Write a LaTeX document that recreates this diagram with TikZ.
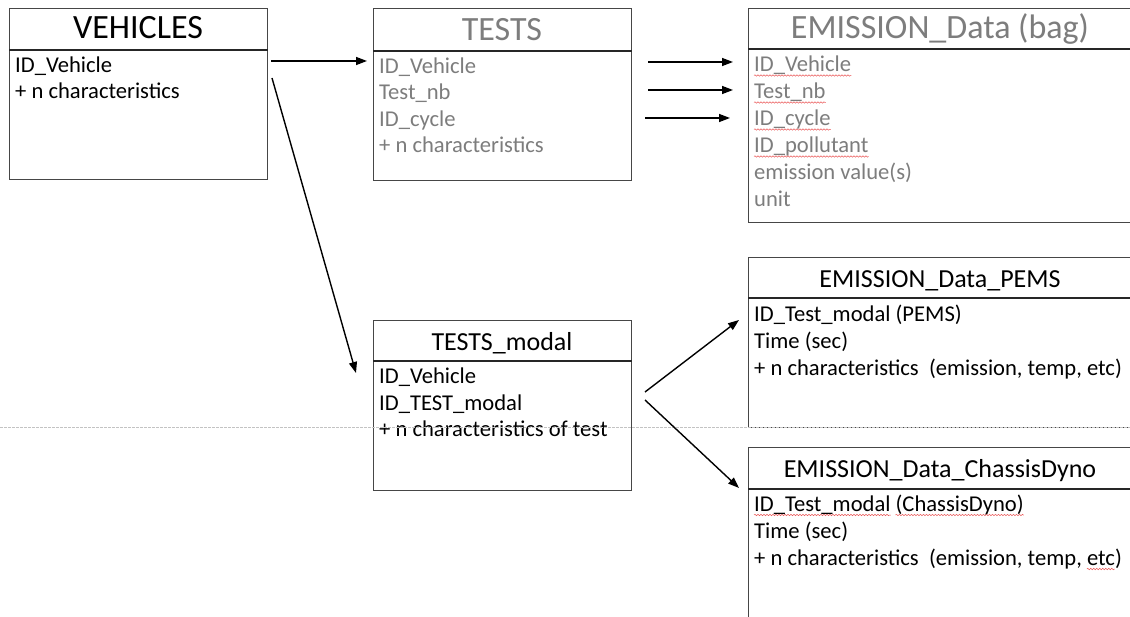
\documentclass[tikz,border=0pt]{standalone}
\usepackage{fontspec}
\setmainfont{Carlito}
\usetikzlibrary{arrows.meta,decorations.pathmorphing,calc}

\definecolor{boxline}{RGB}{70,70,70}
\definecolor{greytext}{RGB}{125,125,125}
\definecolor{guideline}{RGB}{195,195,195}
\definecolor{spellred}{RGB}{235,90,90}

\tikzset{
  tablebox/.style={draw=boxline, line width=0.9pt, anchor=north west, inner sep=0pt},
  divider/.style={draw=black!85, line width=1.3pt},
  bigtitle/.style={anchor=base, inner sep=0pt, font=\fontsize{34}{40}\selectfont},
  smalltitle/.style={anchor=base, inner sep=0pt, font=\fontsize{26}{31}\selectfont},
  rowtext/.style={anchor=base west, inner sep=0pt, font=\fontsize{22.6}{27}\selectfont},
  faded/.style={text=greytext},
  ghost/.style={inner sep=0pt, font=\fontsize{22.6}{27}\selectfont},
  link/.style={draw=black, line width=1.4pt, -{Triangle[length=11pt,width=8pt]}},
  wavy/.style={draw=spellred, line width=0.5pt, decorate,
    decoration={snake, amplitude=0.7pt, segment length=3pt}},
  guide/.style={draw=guideline, line width=0.7pt, dash pattern=on 2.5pt off 1.5pt},
}

\begin{document}
\begin{tikzpicture}[x=1pt, y=-1pt]
\useasboundingbox (0,0) rectangle (1130,617);
\clip (0,0) rectangle (1130,617);
\fill[white] (0,0) rectangle (1130,617);

% ---------- VEHICLES ----------
\node[tablebox, minimum width=258pt, minimum height=171pt] (veh) at (9,8) {};
\draw[divider] ([yshift=-42pt]veh.north west) -- ([yshift=-42pt]veh.north east);
\node[bigtitle] (vehT) at (138,38.5) {VEHICLES};
\node[rowtext] (veh1) at (15,72.5) {ID\_Vehicle};
\node[rowtext] (veh2) at (15,99) {+ n characteristics};

% ---------- TESTS ----------
\node[tablebox, minimum width=258pt, minimum height=172pt] (tst) at (373,8) {};
\draw[divider] ([yshift=-43pt]tst.north west) -- ([yshift=-43pt]tst.north east);
\node[bigtitle, faded] (tstT) at (502,40.5) {TESTS};
\node[rowtext, faded] (tst1) at (379,73.5) {ID\_Vehicle};
\node[rowtext, faded] (tst2) at (379,100) {Test\_nb};
\node[rowtext, faded] (tst3) at (379,126.5) {ID\_cycle};
\node[rowtext, faded] (tst4) at (379,153) {+ n characteristics};

% ---------- EMISSION_Data (bag) ----------
\node[tablebox, minimum width=385pt, minimum height=214pt] (bag) at (748,8) {};
\draw[divider] ([yshift=-41pt]bag.north west) -- ([yshift=-41pt]bag.north east);
\node[bigtitle, faded] (bagT) at (940,38.5) {EMISSION\_Data (bag)};
\node[rowtext, faded] (bag1) at (754,72) {ID\_Vehicle};
\node[rowtext, faded] (bag2) at (754,99) {Test\_nb};
\node[rowtext, faded] (bag3) at (754,126) {ID\_cycle};
\node[rowtext, faded] (bag4) at (754,153) {ID\_pollutant};
\node[rowtext, faded] (bag5) at (754,180) {emission value(s)};
\node[rowtext, faded] (bag6) at (754,207) {unit};
\foreach \r in {bag1,bag2,bag3,bag4}
  \draw[wavy] ([yshift=-3.5pt]\r.base west) -- ([yshift=-3.5pt]\r.base east);

% ---------- EMISSION_Data_PEMS ----------
\node[tablebox, minimum width=385pt, minimum height=170pt] (pems) at (748,257) {};
\draw[divider] ([yshift=-41pt]pems.north west) -- ([yshift=-41pt]pems.north east);
\node[smalltitle] (pemsT) at (940,287.5) {EMISSION\_Data\_PEMS};
\node[rowtext] (pems1) at (754,321.5) {ID\_Test\_modal (PEMS)};
\node[rowtext] (pems2) at (754,348.5) {Time (sec)};
\node[rowtext] (pems3) at (754,375.5) {+ n characteristics~ (emission, temp, etc)};

% ---------- TESTS_modal ----------
\node[tablebox, minimum width=258pt, minimum height=170pt] (mod) at (373,320) {};
\draw[divider] ([yshift=-41pt]mod.north west) -- ([yshift=-41pt]mod.north east);
\node[smalltitle] (modT) at (502,350.5) {TESTS\_modal};
\node[rowtext] (mod1) at (379,383.5) {ID\_Vehicle};
\node[rowtext] (mod2) at (379,410) {ID\_TEST\_modal};
\node[rowtext] (mod3) at (379,436.5) {+ n characteristics of test};

% ---------- EMISSION_Data_ChassisDyno ----------
\node[tablebox, minimum width=385pt, minimum height=185pt] (cdy) at (748,447) {};
\draw[divider] ([yshift=-42pt]cdy.north west) -- ([yshift=-42pt]cdy.north east);
\node[smalltitle] (cdyT) at (940,477.5) {EMISSION\_Data\_ChassisDyno};
\node[rowtext] (cdy1) at (754,511.5) {ID\_Test\_modal (ChassisDyno)};
\node[rowtext] (cdy2) at (754,538.5) {Time (sec)};
\node[rowtext] (cdy3) at (754,565.5) {+ n characteristics~ (emission, temp, etc)};
% spans of the flagged words
\node[ghost, anchor=base west] (cdyA) at (cdy1.base west) {\phantom{ID\_Test\_modal}};
\node[ghost, anchor=base east] (cdyB) at (cdy1.base east) {\phantom{(ChassisDyno)}};
\node[ghost, anchor=base east] (cdyC) at (cdy3.base east) {\phantom{etc)}};
\node[ghost, anchor=base east] (cdyD) at (cdy3.base east) {\phantom{)}};
\draw[wavy] ([yshift=-3.5pt]cdyA.base west) -- ([yshift=-3.5pt]cdyA.base east);
\draw[wavy] ([yshift=-3.5pt]cdyB.base west) -- ([yshift=-3.5pt]cdyB.base east);
\draw[wavy] ([yshift=-3.5pt]cdyC.base west) -- ([yshift=-3.5pt]cdyD.base west);

% ---------- faint dashed guide ----------
\coordinate (guideL) at (0,427);
\coordinate (guideR) at (1130,427);
\draw[guide] (guideL) -- (guideR);

% ---------- connectors ----------
\coordinate (vt0) at (271,61);   \coordinate (vt1) at (367,61);
\coordinate (vm0) at (272,78);   \coordinate (vm1) at (356,373);
\coordinate (tb10) at (648,62);  \coordinate (tb11) at (733,62);
\coordinate (tb20) at (648,90);  \coordinate (tb21) at (733,90);
\coordinate (tb30) at (645,118); \coordinate (tb31) at (730,118);
\coordinate (mp0) at (645,392);  \coordinate (mp1) at (739,320);
\coordinate (mc0) at (645,400);  \coordinate (mc1) at (739,488);

\draw[link] (vt0) -- (vt1);
\draw[link] (vm0) -- (vm1);
\draw[link] (tb10) -- (tb11);
\draw[link] (tb20) -- (tb21);
\draw[link] (tb30) -- (tb31);
\draw[link] (mp0) -- (mp1);
\draw[link] (mc0) -- (mc1);
\end{tikzpicture}
\end{document}
